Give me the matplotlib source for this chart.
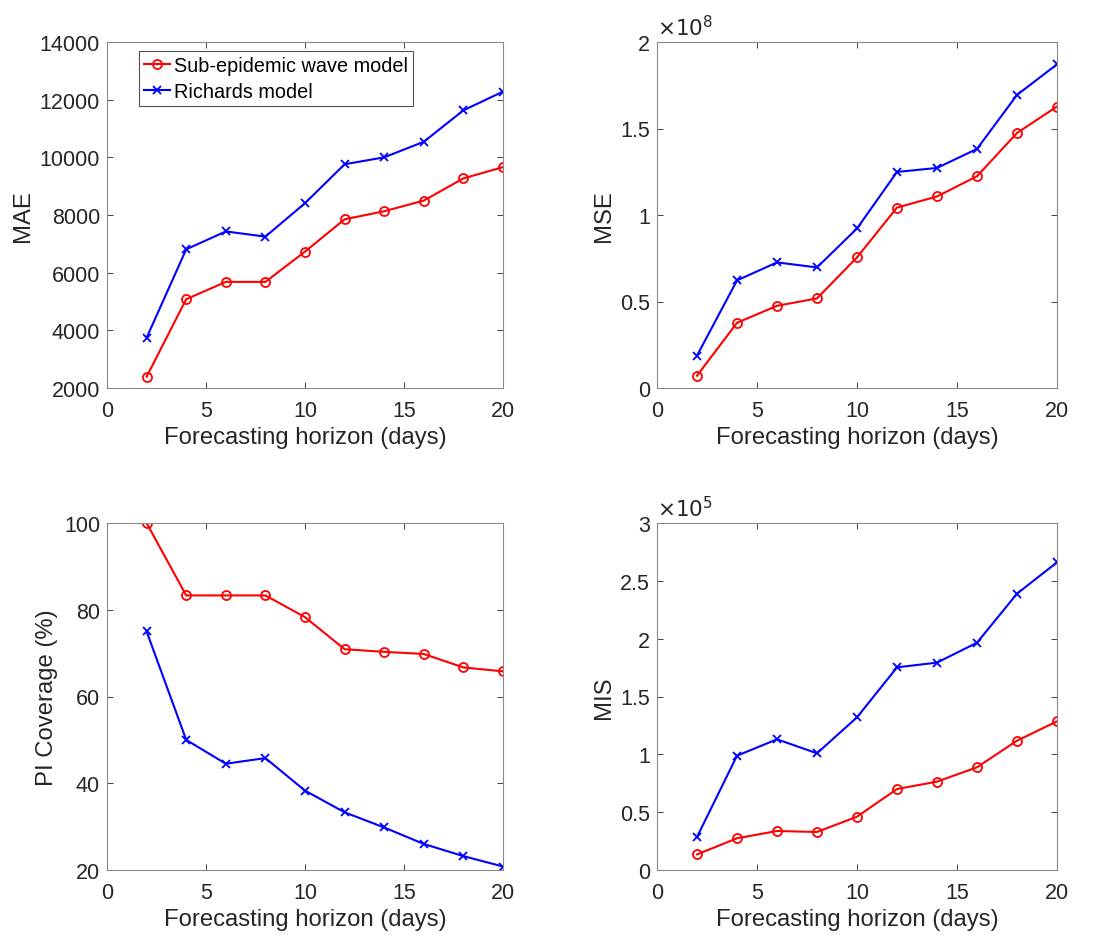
import matplotlib.pyplot as plt
from matplotlib.ticker import FuncFormatter

plt.rcParams['font.family'] = ['Liberation Sans', 'DejaVu Sans']

# forecasting horizons (days)
horizon = [2, 4, 6, 8, 10, 12, 14, 16, 18, 20]

# sub-epidemic wave model
mae_sub = [2390, 5080, 5680, 5680, 6730, 7850, 8130, 8500, 9270, 9660]
mse_sub = [0.071e8, 0.377e8, 0.475e8, 0.518e8, 0.755e8, 1.043e8, 1.107e8, 1.224e8, 1.474e8, 1.627e8]
cov_sub = [100.0, 83.3, 83.3, 83.3, 78.3, 70.9, 70.3, 69.8, 66.7, 65.8]
mis_sub = [0.135e5, 0.274e5, 0.337e5, 0.329e5, 0.461e5, 0.700e5, 0.764e5, 0.888e5, 1.118e5, 1.285e5]

# Richards model
mae_ric = [3740, 6810, 7430, 7250, 8410, 9760, 10000, 10540, 11630, 12280]
mse_ric = [0.187e8, 0.622e8, 0.726e8, 0.697e8, 0.922e8, 1.249e8, 1.272e8, 1.382e8, 1.694e8, 1.871e8]
cov_ric = [75.0, 50.0, 44.5, 45.8, 38.3, 33.3, 29.8, 26.0, 23.2, 20.8]
mis_ric = [0.285e5, 0.988e5, 1.130e5, 1.009e5, 1.320e5, 1.752e5, 1.793e5, 1.965e5, 2.389e5, 2.660e5]

W, H = 1095, 937
fig = plt.figure(figsize=(W / 100, H / 100), dpi=100)
fig.set_facecolor('white')

# axes boxes in pixels: left, top, right, bottom
boxes = [(107, 43, 503, 389), (657, 43, 1057, 389),
         (107, 524, 503, 871), (657, 524, 1057, 871)]
panels = [
    (mae_sub, mae_ric, 'MAE', (2000, 14000), list(range(2000, 14001, 2000)), None),
    (mse_sub, mse_ric, 'MSE', (0, 2e8), [0, 0.5e8, 1e8, 1.5e8, 2e8], 8),
    (cov_sub, cov_ric, 'PI Coverage (%)', (20, 100), [20, 40, 60, 80, 100], None),
    (mis_sub, mis_ric, 'MIS', (0, 3e5), [0, 0.5e5, 1e5, 1.5e5, 2e5, 2.5e5, 3e5], 5),
]

axes = []
for (l, t, r, b), (ysub, yric, ylab, ylim, yticks, expo) in zip(boxes, panels):
    ax = fig.add_axes([l / W, 1 - b / H, (r - l) / W, (b - t) / H])
    ax.plot(horizon, ysub, color='red', lw=1.5, marker='o', ms=6.5,
            mfc='none', mew=1.3, label='Sub-epidemic wave model')
    ax.plot(horizon, yric, color='blue', lw=1.5, marker='x', ms=5.5,
            mew=1.3, label='Richards model')
    ax.set_xlim(0, 20)
    ax.set_xticks([0, 5, 10, 15, 20])
    ax.set_ylim(*ylim)
    ax.set_yticks(yticks)
    if expo is not None:
        # tick labels in units of 10^expo, exponent written above the axis
        s = 10 ** expo
        ax.yaxis.set_major_formatter(FuncFormatter(lambda v, p, s=s: '%g' % (v / s)))
        ax.text(0.0, 1.005, r'$\times10^{%d}$' % expo, transform=ax.transAxes,
                fontsize=15.5, ha='left', va='bottom', color='#262626')
    ax.set_xlabel('Forecasting horizon (days)', fontsize=17.2, color='#262626', labelpad=3)
    ax.set_ylabel(ylab, fontsize=17.2, color='#262626', labelpad=4)
    ax.tick_params(direction='in', top=True, right=True, labelsize=15.5,
                   colors='#262626', length=4, width=0.6)
    ax.tick_params(axis='x', pad=9)
    ax.tick_params(axis='y', pad=5)
    for sp in ax.spines.values():
        sp.set_color('#8a8a8a')
        sp.set_linewidth(0.8)
    axes.append(ax)

leg = axes[0].legend(loc='upper left', bbox_to_anchor=(0.081, 0.974), fontsize=14.3,
                     frameon=True, fancybox=False, edgecolor='#262626',
                     handlelength=1.3, handletextpad=0.2, borderpad=0.25,
                     labelspacing=0.35, borderaxespad=0)
leg.get_frame().set_linewidth(0.8)

fig.savefig('out.png', dpi=100, facecolor='white')
